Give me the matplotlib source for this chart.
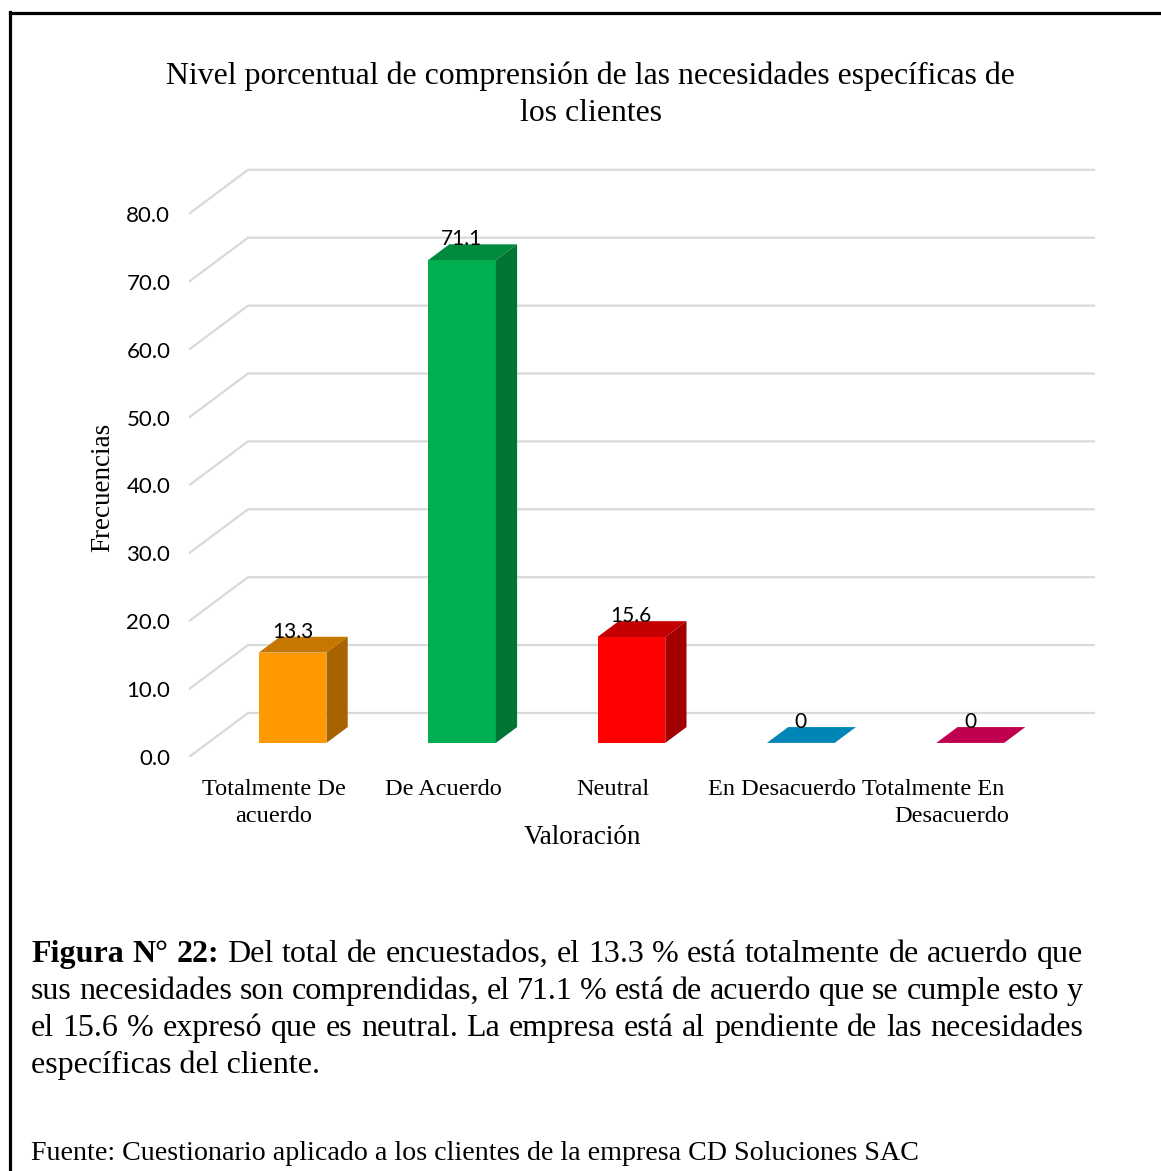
import numpy as np
import matplotlib
matplotlib.use("Agg")
import matplotlib.pyplot as plt
from matplotlib.patches import Polygon
from matplotlib.lines import Line2D

# datos del grafico
categorias = ["Totalmente De\nacuerdo", "De Acuerdo", "Neutral", "En Desacuerdo",
              "Totalmente En      \nDesacuerdo"]
valores = [13.3, 71.1, 15.6, 0, 0]
etiquetas = ["13.3", "71.1", "15.6", "0", "0"]
ticks_y = [0, 10, 20, 30, 40, 50, 60, 70, 80]

color_frente = ["#FF9900", "#00B050", "#FF0000", "#0086B6", "#C0004E"]
color_tapa = ["#C67700", "#008A3E", "#C40000", "#0086B6", "#C0004E"]
color_lado = ["#A86300", "#007534", "#A20000", "#0086B6", "#C0004E"]

titulo = "Nivel porcentual de comprensión de las necesidades específicas de"
titulo2 = "los clientes"
eje_y = "Frecuencias"
eje_x = "Valoración"

leyenda = [
    "Figura N° 22: Del total de encuestados, el 13.3 % está totalmente de acuerdo que",
    "sus necesidades son comprendidas, el 71.1 % está de acuerdo que se cumple esto y",
    "el 15.6 % expresó que es neutral. La empresa está al pendiente de las necesidades",
    "específicas del cliente.",
]
negritas = 3  # primeras palabras en negrita
fuente = "Fuente: Cuestionario aplicado a los clientes de la empresa CD Soluciones SAC"

SERIF = "Liberation Serif"
SANS = "Lato"

W, H = 1161, 1171
fig = plt.figure(figsize=(W / 100, H / 100), dpi=100)


def fx(px):
    return px / W


def fy(py):
    return 1 - py / H


# geometria de la zona de grafico (pixeles)
X0, Y0 = 189, 757          # origen del plano frontal
CELDA, UNIDAD = 169.4, 6.79  # px por categoria, px por unidad
DX, DY = 59 / CELDA, 44 / UNIDAD  # profundidad de la pared
F0, F1 = 0.32, 0.68        # profundidad de las barras
ANCHO = 0.40

right_px, top_px = 1110, 140
ax = fig.add_axes([fx(X0), fy(Y0), (right_px - X0) / W, (Y0 - top_px) / H])
ax.set_xlim(0, (right_px - X0) / CELDA)
ax.set_ylim(0, (Y0 - top_px) / UNIDAD)
for s in ax.spines.values():
    s.set_visible(False)

n = len(valores)
# lineas de cuadricula en la pared y el suelo
for v in ticks_y:
    ax.plot([0, DX, n + DX], [v, v + DY, v + DY], color="#D9D9D9", lw=1.6,
            zorder=1, solid_capstyle="butt")

# barras pseudo 3D
x_centro = np.arange(n) + 0.5 + F0 * DX
base = F0 * DY
ddx, ddy = (F1 - F0) * DX, (F1 - F0) * DY
ax.bar(x_centro, valores, width=ANCHO, bottom=base, color=color_frente, zorder=3,
       linewidth=0)
for i, v in enumerate(valores):
    xl, xr = x_centro[i] - ANCHO / 2, x_centro[i] + ANCHO / 2
    top = base + v
    ax.add_patch(Polygon([(xl, top), (xr, top), (xr + ddx, top + ddy), (xl + ddx, top + ddy)],
                         closed=True, color=color_tapa[i], lw=0, zorder=3))
    if v > 0:
        ax.add_patch(Polygon([(xr, base), (xr + ddx, base + ddy), (xr + ddx, top + ddy), (xr, top)],
                             closed=True, color=color_lado[i], lw=0, zorder=3))
    ax.text(x_centro[i], top + ddy - 0.15, etiquetas[i], ha="center", va="baseline",
            fontsize=15, family=SANS, zorder=4)

ax.set_yticks(ticks_y)
ax.set_yticklabels([f"{v:.1f}" for v in ticks_y], family=SANS, fontsize=16)
ax.set_xticks(np.arange(n) + 0.5)
ax.set_xticklabels(categorias, family=SERIF, fontsize=17.5, linespacing=1.4)
ax.tick_params(axis="y", length=0, pad=13.5)
ax.tick_params(axis="x", length=0, pad=15.5)

axw, axh = right_px - X0, Y0 - top_px
ax.set_xlabel(eje_x, family=SERIF, fontsize=19.5, va="center")
ax.xaxis.set_label_coords((582 - X0) / axw, (Y0 - 838) / axh)
ax.set_ylabel(eje_y, family=SERIF, fontsize=19.5, va="center")
ax.yaxis.set_label_coords((103 - X0) / axw, (Y0 - 487) / axh)

# titulo
fig.text(fx(590), fy(84), titulo, ha="center", va="baseline", family=SERIF, fontsize=22.9)
fig.text(fx(591), fy(121), titulo2, ha="center", va="baseline", family=SERIF, fontsize=22.9)

# texto de la figura (justificado)
renderer = fig.canvas.get_renderer()
x_izq, x_der = 31, 1083
for k, linea in enumerate(leyenda):
    y = 962 + 37 * k
    palabras = linea.split(" ")
    if k == len(leyenda) - 1:
        fig.text(fx(x_izq), fy(y), linea, ha="left", va="baseline", family=SERIF, fontsize=23)
        continue
    textos = []
    for j, p in enumerate(palabras):
        bold = (k == 0 and j < negritas)
        textos.append(fig.text(0, fy(y), p, ha="left", va="baseline", family=SERIF,
                               fontsize=23, weight="bold" if bold else "normal"))
    anchos = [t.get_window_extent(renderer).width for t in textos]
    hueco = (x_der - x_izq - sum(anchos)) / (len(anchos) - 1)
    x = x_izq
    for t, a in zip(textos, anchos):
        t.set_x(fx(x))
        x += a + hueco

fig.text(fx(x_izq), fy(1160), fuente, ha="left", va="baseline", family=SERIF, fontsize=20.2)

# marco
fig.add_artist(Line2D([fx(10), fx(10)], [fy(12), 0], color="black", lw=2.3))
fig.add_artist(Line2D([fx(10), 1], [fy(13), fy(13)], color="black", lw=2.3))

fig.savefig("out.png", dpi=100)
